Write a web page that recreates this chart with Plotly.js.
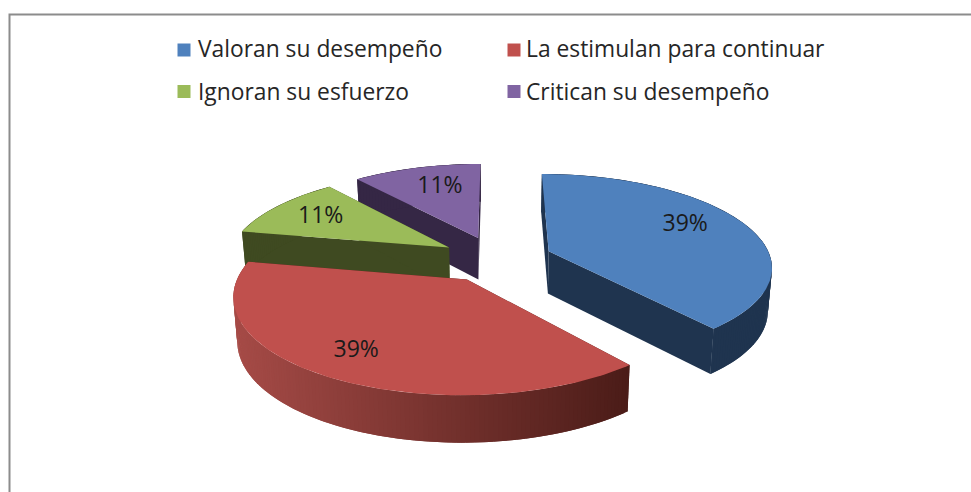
<!DOCTYPE html>
<html>
<head>
<meta charset="utf-8">
<script src="https://cdn.plot.ly/plotly-3.0.1.min.js"></script>
<style>
    html, body { margin: 0; padding: 0; background: #fff; overflow: hidden; }
</style>
</head>
<body>
<div id="chart" style="width:971px;height:492px"></div>
<script>
const categories = ['Valoran su desempeño', 'La estimulan para continuar', 'Ignoran su esfuerzo', 'Critican su desempeño'];
const values = [39, 39, 11, 11];
const valueLabels = ['39%', '39%', '11%', '11%'];
const topColors = ['#4f81bd', '#c0504d', '#9bbb59', '#8064a2'];
const wallColors = ['#1f344f', '#a64b47', '#3f4a21', '#352745'];
const wallEndColors = ['#1f344f', '#4b1c18', '#3f4a21', '#352745'];

// pie geometry, in px of the page
const pie = { cx: 496.5, cy: 259, a: 234, b: 96, persp: 0.16, depth: 42.5, explode: 0.24, radius: 0.95, start: 0 };
const labelRadius = [0.71, 0.724, 0.713, 0.68];
const labelAngle = [63, 213.5, 302, 343.4];
const drawOrder = [3, 2, 0, 1];  // back to front
const FONT = '"Open Sans", sans-serif';

function project(X, Z, down) {
    const s = 1 / (1 + pie.persp * Z);
    let x = pie.a * X * s;
    let y = -pie.b * Z * s;
    if (down) {
        x *= 0.985;
        y += pie.depth * (1 - 0.1 * Z);
    }
    return [pie.cx + x, pie.cy + y];
}

function rad(deg) { return deg * Math.PI / 180; }

// point of a slice: radius r at angle deg, moved out along the mid angle
function slicePoint(mid, r, deg, down) {
    const X = pie.explode * Math.sin(rad(mid)) + r * Math.sin(rad(deg));
    const Z = pie.explode * Math.cos(rad(mid)) + r * Math.cos(rad(deg));
    return project(X, Z, down);
}

function polyTrace(points, color) {
    return {
        x: points.map(p => p[0]),
        y: points.map(p => p[1]),
        mode: 'lines',
        fill: 'toself',
        fillcolor: color,
        line: { color: color, width: 0 },
        hoverinfo: 'skip',
        showlegend: false
    };
}

function mixColor(c1, c2, t) {
    const out = [1, 3, 5].map(i => {
        const p = parseInt(c1.substr(i, 2), 16);
        const q = parseInt(c2.substr(i, 2), 16);
        return Math.round(p + (q - p) * t);
    });
    return `rgb(${out[0]},${out[1]},${out[2]})`;
}

function buildTraces() {
    const total = values.reduce((a, b) => a + b, 0);
    const slices = [];
    let angle = pie.start;
    values.forEach(v => {
        const sweep = v / total * 360;
        slices.push({ from: angle, to: angle + sweep, mid: angle + sweep / 2 });
        angle += sweep;
    });

    const traces = [];
    drawOrder.forEach(i => {
        const s = slices[i];
        const R = pie.radius;
        const apexTop = slicePoint(s.mid, 0, 0, false);
        const apexDown = slicePoint(s.mid, 0, 0, true);

        // flat walls from the centre to the rim
        [s.from, s.to].forEach(deg => {
            traces.push(polyTrace([apexTop, slicePoint(s.mid, R, deg, false), slicePoint(s.mid, R, deg, true), apexDown], wallEndColors[i]));
        });

        // rim in small overlapping pieces; the fade runs along x, as in the reference
        const steps = Math.ceil(s.to - s.from);
        const rimX = [];
        for (let k = 0; k <= steps; k++) {
            rimX.push(slicePoint(s.mid, R, s.from + (s.to - s.from) * k / steps, false)[0]);
        }
        const xMin = Math.min(...rimX), xMax = Math.max(...rimX);
        for (let k = 0; k < steps; k++) {
            const d0 = s.from + (s.to - s.from) * k / steps;
            const d1 = s.from + (s.to - s.from) * Math.min(k + 2, steps) / steps;
            traces.push(polyTrace([
                slicePoint(s.mid, R, d0, false), slicePoint(s.mid, R, d1, false),
                slicePoint(s.mid, R, d1, true), slicePoint(s.mid, R, d0, true)
            ], mixColor(wallEndColors[i], wallColors[i], (xMax - rimX[k]) / (xMax - xMin))));
        }

        // top face
        const top = [apexTop];
        for (let k = 0; k <= steps; k++) {
            top.push(slicePoint(s.mid, R, s.from + (s.to - s.from) * k / steps, false));
        }
        traces.push(polyTrace(top, topColors[i]));
    });

    // percent labels
    const labels = slices.map((s, i) => slicePoint(s.mid, labelRadius[i], labelAngle[i], false));
    traces.push({
        x: labels.map(p => p[0]),
        y: labels.map(p => p[1] + 2.5),
        mode: 'text',
        text: valueLabels,
        textposition: 'middle center',
        textfont: { family: FONT, size: 23, color: '#1a1a1a' },
        hoverinfo: 'skip',
        showlegend: false
    });

    // legend, two rows of two
    const legendX = [184, 514, 184, 514];
    const legendY = [50, 50, 91.5, 91.5];
    const legendTextX = [198, 526, 198, 526];
    const legendTextY = [51, 51, 94, 94];
    traces.push({
        x: legendX,
        y: legendY,
        mode: 'markers',
        marker: { symbol: 'square', size: 13, color: topColors },
        hoverinfo: 'skip',
        showlegend: false
    });
    traces.push({
        x: legendTextX,
        y: legendTextY,
        mode: 'text',
        text: categories,
        textposition: 'middle right',
        textfont: { family: FONT, size: 22.8, color: '#262626' },
        hoverinfo: 'skip',
        showlegend: false
    });
    return traces;
}

document.addEventListener('DOMContentLoaded', function() {
    const layout = {
        width: 971,
        height: 492,
        margin: { l: 0, r: 0, t: 0, b: 0 },
        paper_bgcolor: '#ffffff',
        plot_bgcolor: '#ffffff',
        showlegend: false,
        xaxis: { range: [0, 971], visible: false, fixedrange: true },
        yaxis: { range: [492, 0], visible: false, fixedrange: true },
        shapes: [{
            type: 'rect', layer: 'below',
            x0: 9.5, y0: 14.5, x1: 990, y1: 510,
            line: { color: '#8c8c8c', width: 2 }
        }]
    };
    Plotly.newPlot('chart', buildTraces(), layout, { displayModeBar: false, staticPlot: true });
});
</script>
</body>
</html>
